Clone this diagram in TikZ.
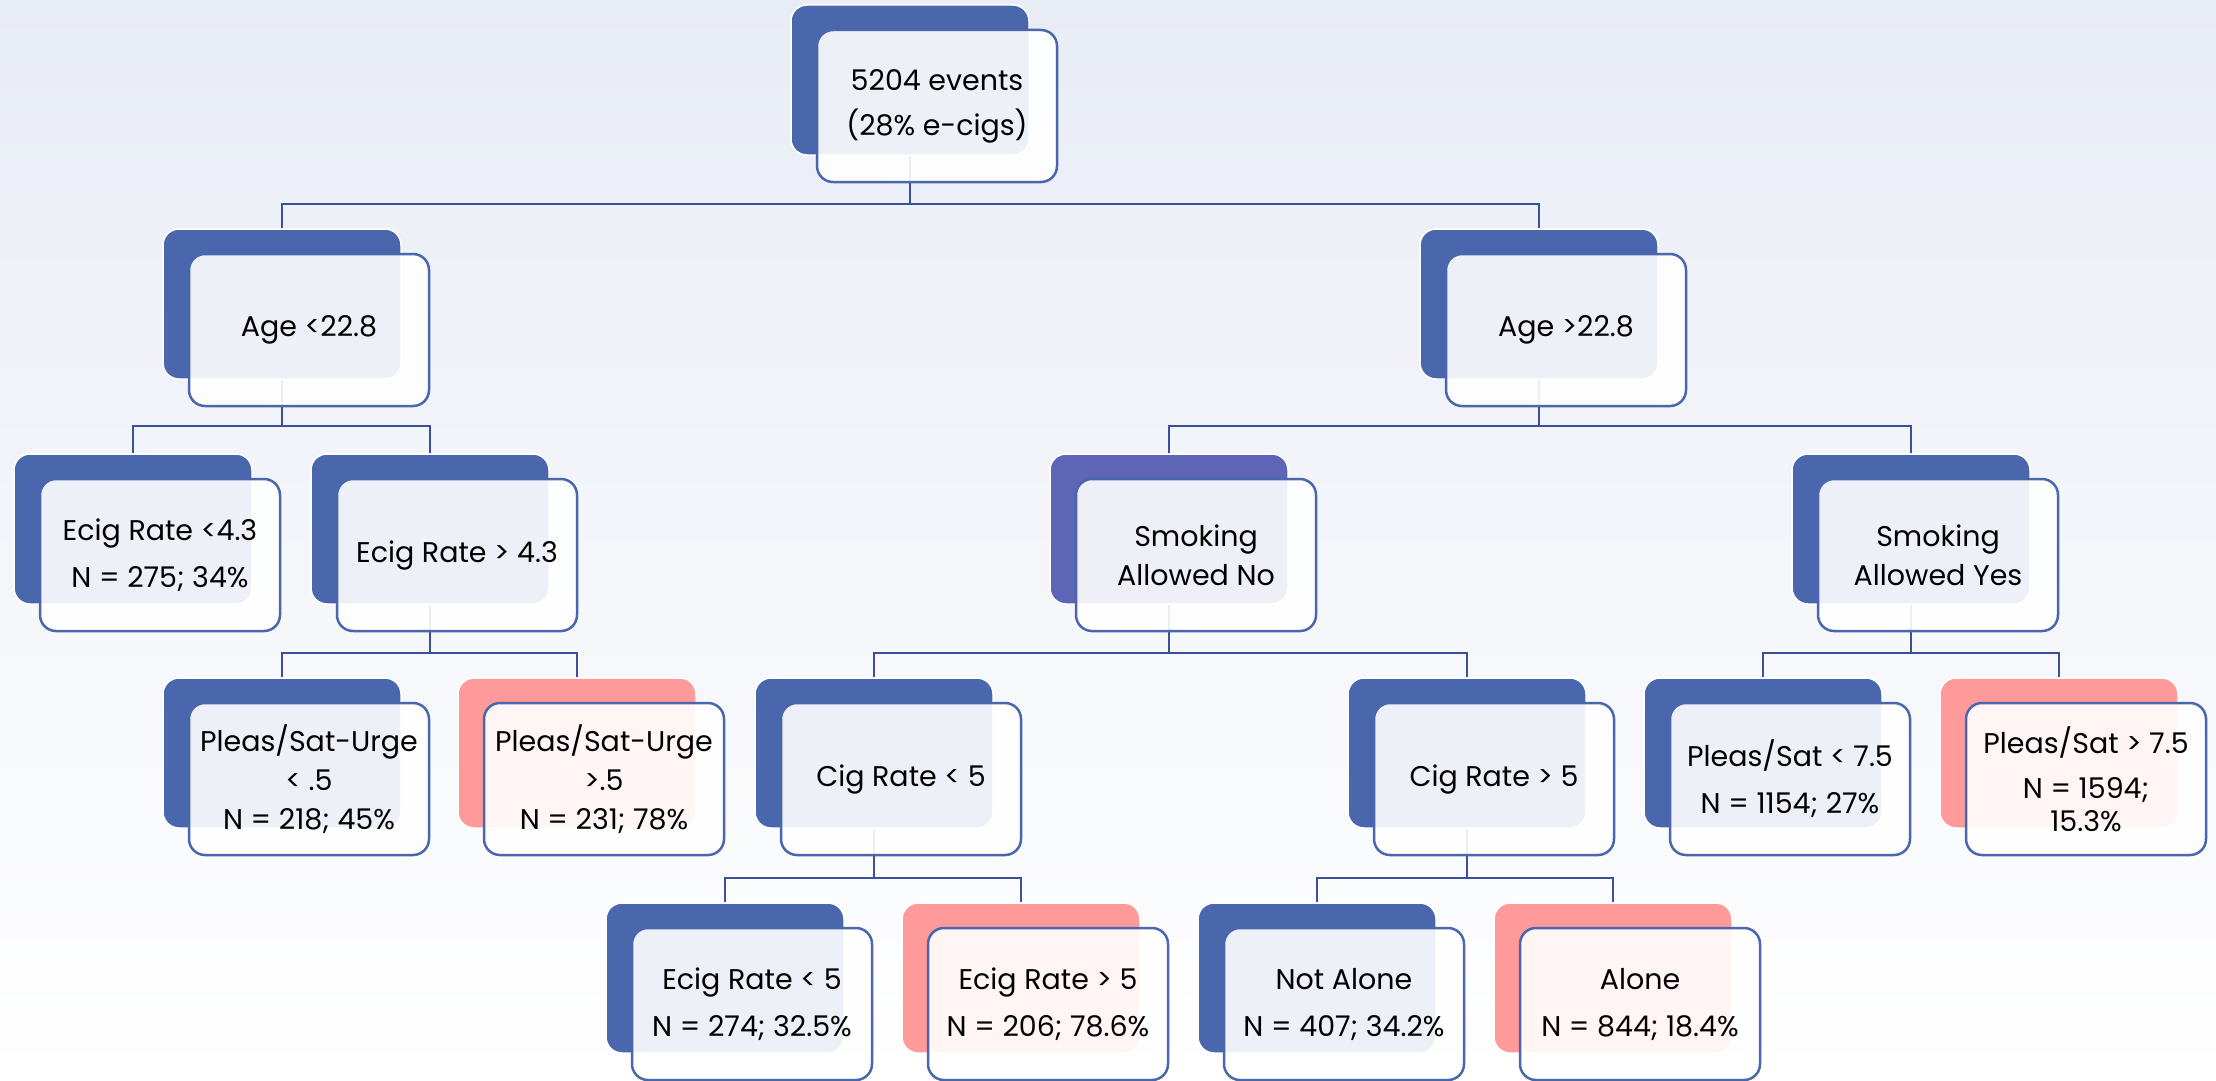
\documentclass[tikz,border=0pt]{standalone}
\usepackage{fontspec}
\setmainfont{Poppins}
\usetikzlibrary{positioning,calc}
\definecolor{cardblue}{RGB}{74,103,174}
\definecolor{cardviolet}{RGB}{92,101,182}
\definecolor{cardpink}{RGB}{255,154,154}
\definecolor{linkblue}{RGB}{58,80,155}
\definecolor{bgtop}{RGB}{232,236,245}

\begin{document}
\begin{tikzpicture}[x=1pt,y=-1pt,
    backcard/.style={rectangle,rounded corners=16pt,draw=white,line width=1.5pt,
      fill=cardblue,minimum width=238pt,minimum height=150pt,inner sep=0pt},
    frontcard/.style={rectangle,rounded corners=16pt,draw=cardblue,line width=2.5pt,
      fill=white,fill opacity=0.9,text opacity=1,minimum width=240pt,minimum height=152pt,
      inner sep=0pt,align=center,font=\fontsize{28.5}{39}\selectfont},
    link/.style={draw=linkblue,line width=2pt}]
    \useasboundingbox (0,0) rectangle (2216,1081);
    \shade[top color=bgtop,bottom color=white] (0,0) rectangle (2216,1081);

    % back cards
    \node[backcard] (root-b) at (910,80) {};
    \node[backcard] (ageL-b) at (282,304) {};
    \node[backcard] (ageR-b) at (1539,304) {};
    \node[backcard] (ecigL-b) at (133,529) {};
    \node[backcard] (ecigR-b) at (430,529) {};
    \node[backcard,fill=cardviolet] (smkNo-b) at (1169,529) {};
    \node[backcard] (smkYes-b) at (1911,529) {};
    \node[backcard] (urgeL-b) at (282,753) {};
    \node[backcard,fill=cardpink] (urgeR-b) at (577,753) {};
    \node[backcard] (cigL-b) at (874,753) {};
    \node[backcard] (cigR-b) at (1467,753) {};
    \node[backcard] (pleasL-b) at (1763,753) {};
    \node[backcard,fill=cardpink] (pleasR-b) at (2059,753) {};
    \node[backcard] (ecigLo-b) at (725,978) {};
    \node[backcard,fill=cardpink] (ecigHi-b) at (1021,978) {};
    \node[backcard] (notAlone-b) at (1317,978) {};
    \node[backcard,fill=cardpink] (alone-b) at (1613,978) {};

    % links
    \draw[link] (ageL-b.north) -- ++(0,-24) -| (root-b.south);
    \draw[link] (ageR-b.north) -- ++(0,-24) -| (root-b.south);
    \draw[link] (ecigL-b.north) -- ++(0,-27) -| (ageL-b.south);
    \draw[link] (ecigR-b.north) -- ++(0,-27) -| (ageL-b.south);
    \draw[link] (smkNo-b.north) -- ++(0,-27) -| (ageR-b.south);
    \draw[link] (smkYes-b.north) -- ++(0,-27) -| (ageR-b.south);
    \draw[link] (urgeL-b.north) -- ++(0,-24) -| (ecigR-b.south);
    \draw[link] (urgeR-b.north) -- ++(0,-24) -| (ecigR-b.south);
    \draw[link] (cigL-b.north) -- ++(0,-24) -| (smkNo-b.south);
    \draw[link] (cigR-b.north) -- ++(0,-24) -| (smkNo-b.south);
    \draw[link] (pleasL-b.north) -- ++(0,-24) -| (smkYes-b.south);
    \draw[link] (pleasR-b.north) -- ++(0,-24) -| (smkYes-b.south);
    \draw[link] (ecigLo-b.north) -- ++(0,-24) -| (cigL-b.south);
    \draw[link] (ecigHi-b.north) -- ++(0,-24) -| (cigL-b.south);
    \draw[link] (notAlone-b.north) -- ++(0,-24) -| (cigR-b.south);
    \draw[link] (alone-b.north) -- ++(0,-24) -| (cigR-b.south);

    % front cards
    \node[frontcard] (root) at ([shift={(27,26)}]root-b.center) {5204 events\\[6pt](28\% e-cigs)};
    \node[frontcard] (ageL) at ([shift={(27,26)}]ageL-b.center) {Age <22.8};
    \node[frontcard] (ageR) at ([shift={(27,26)}]ageR-b.center) {Age >22.8};
    \node[frontcard] (ecigL) at ([shift={(27,26)}]ecigL-b.center) {Ecig Rate <4.3\\[8pt]N = 275; 34\%};
    \node[frontcard] (ecigR) at ([shift={(27,26)}]ecigR-b.center) {Ecig Rate > 4.3};
    \node[frontcard] (smkNo) at ([shift={(27,26)}]smkNo-b.center) {Smoking\\Allowed No};
    \node[frontcard] (smkYes) at ([shift={(27,26)}]smkYes-b.center) {Smoking\\Allowed Yes};
    \node[frontcard] (urgeL) at ([shift={(27,26)}]urgeL-b.center) {Pleas/Sat-Urge\\< .5\\N = 218; 45\%};
    \node[frontcard] (urgeR) at ([shift={(27,26)}]urgeR-b.center) {Pleas/Sat-Urge\\>.5\\N = 231; 78\%};
    \node[frontcard] (cigL) at ([shift={(27,26)}]cigL-b.center) {Cig Rate < 5};
    \node[frontcard] (cigR) at ([shift={(27,26)}]cigR-b.center) {Cig Rate > 5};
    \node[frontcard] (pleasL) at ([shift={(27,26)}]pleasL-b.center) {Pleas/Sat < 7.5\\[8pt]N = 1154; 27\%};
    \node[frontcard] (pleasR) at ([shift={(27,26)}]pleasR-b.center) {Pleas/Sat > 7.5\\[6pt]N = 1594;\\[-6pt]15.3\%};
    \node[frontcard] (ecigLo) at ([shift={(27,26)}]ecigLo-b.center) {Ecig Rate < 5\\[8pt]N = 274; 32.5\%};
    \node[frontcard] (ecigHi) at ([shift={(27,26)}]ecigHi-b.center) {Ecig Rate > 5\\[8pt]N = 206; 78.6\%};
    \node[frontcard] (notAlone) at ([shift={(27,26)}]notAlone-b.center) {Not Alone\\[8pt]N = 407; 34.2\%};
    \node[frontcard] (alone) at ([shift={(27,26)}]alone-b.center) {Alone\\[8pt]N = 844; 18.4\%};
\end{tikzpicture}
\end{document}
